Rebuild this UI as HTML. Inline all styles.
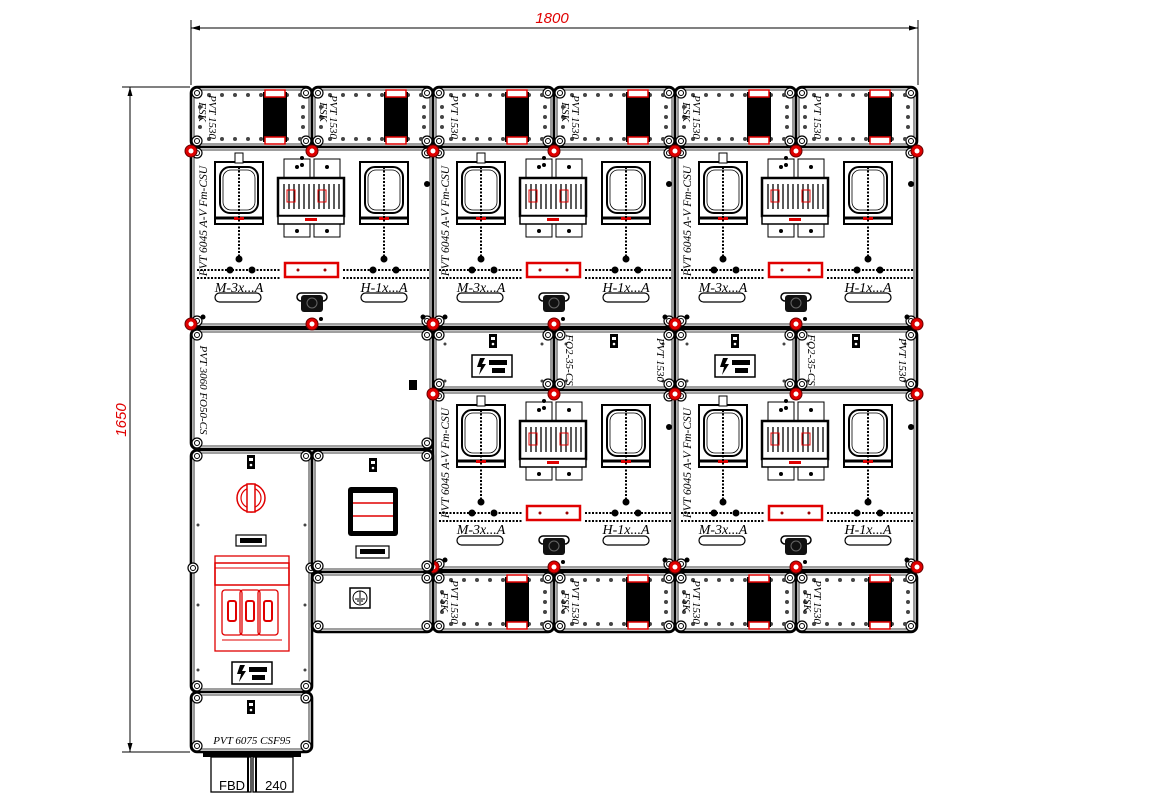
<!DOCTYPE html>
<html><head><meta charset="utf-8"><style>
html,body{margin:0;padding:0;background:#fff;}
svg{display:block;}
.t{font-family:"Liberation Serif",serif;font-style:italic;fill:#000;}
.d{font-family:"Liberation Sans",sans-serif;font-style:italic;fill:#e00000;font-size:15px;}
</style></head><body>
<svg id="s" width="1152" height="810" viewBox="0 0 1152 810" xmlns="http://www.w3.org/2000/svg">
<g id="g"></g>
<!-- dimension lines -->
<g stroke="#000" stroke-width="1" fill="none">
<line x1="191" y1="28" x2="918" y2="28"/><line x1="191" y1="20" x2="191" y2="85"/><line x1="918" y1="20" x2="918" y2="85"/>
<line x1="130" y1="87" x2="130" y2="752"/><line x1="122" y1="87" x2="190" y2="87"/><line x1="122" y1="752" x2="190" y2="752"/>
</g>
<path d="M191 28 l9 -2.5 v5z M918 28 l-9 -2.5 v5z M130 87 l-2.5 9 h5z M130 752 l-2.5 -9 h5z" fill="#000"/>
<text class="d" x="552" y="23" text-anchor="middle">1800</text>
<text class="d" x="126" y="420" text-anchor="middle" transform="rotate(-90 126 420)">1650</text>
<g id="txt"></g>
<!-- static labels -->
<g class="t" font-size="11">
<text transform="translate(199,112) rotate(90)" text-anchor="middle">FSK</text>
<text transform="translate(209,117) rotate(90)" text-anchor="middle">PVT 1530</text>
<text transform="translate(320,112) rotate(90)" text-anchor="middle">FSK</text>
<text transform="translate(330,117) rotate(90)" text-anchor="middle">PVT 1530</text>
<text transform="translate(451,117) rotate(90)" text-anchor="middle">PVT 1530</text>
<text transform="translate(562,112) rotate(90)" text-anchor="middle">FSK</text>
<text transform="translate(572,117) rotate(90)" text-anchor="middle">PVT 1530</text>
<text transform="translate(683,112) rotate(90)" text-anchor="middle">FSK</text>
<text transform="translate(693,117) rotate(90)" text-anchor="middle">PVT 1530</text>
<text transform="translate(814,117) rotate(90)" text-anchor="middle">PVT 1530</text>

<text transform="translate(441,602) rotate(90)" text-anchor="middle">FSK</text>
<text transform="translate(451,602) rotate(90)" text-anchor="middle">PVT 1530</text>
<text transform="translate(562,602) rotate(90)" text-anchor="middle">FSK</text>
<text transform="translate(572,602) rotate(90)" text-anchor="middle">PVT 1530</text>
<text transform="translate(683,602) rotate(90)" text-anchor="middle">FSK</text>
<text transform="translate(693,602) rotate(90)" text-anchor="middle">PVT 1530</text>
<text transform="translate(804,602) rotate(90)" text-anchor="middle">FSK</text>
<text transform="translate(814,602) rotate(90)" text-anchor="middle">PVT 1530</text>

<text transform="translate(566,360) rotate(90)" text-anchor="middle">FO2-35-CS</text>
<text transform="translate(657,360) rotate(90)" text-anchor="middle">PVT 1530</text>
<text transform="translate(808,360) rotate(90)" text-anchor="middle">FO2-35-CS</text>
<text transform="translate(899,360) rotate(90)" text-anchor="middle">PVT 1530</text>
<text transform="translate(200,390) rotate(90)" text-anchor="middle">PVT 3060 FO50-CS</text>
</g>
<g class="t" font-size="11.5">
<text transform="translate(207,221) rotate(-90)" text-anchor="middle">PVT 6045 A-V Fm-CSU</text>
<text transform="translate(449,221) rotate(-90)" text-anchor="middle">PVT 6045 A-V Fm-CSU</text>
<text transform="translate(691,221) rotate(-90)" text-anchor="middle">PVT 6045 A-V Fm-CSU</text>
<text transform="translate(449,463) rotate(-90)" text-anchor="middle">PVT 6045 A-V Fm-CSU</text>
<text transform="translate(691,463) rotate(-90)" text-anchor="middle">PVT 6045 A-V Fm-CSU</text>
</g>
<g class="t" font-size="14">
<text x="239" y="292" text-anchor="middle">M-3x...A</text><text x="384" y="292" text-anchor="middle">H-1x...A</text>
<text x="481" y="292" text-anchor="middle">M-3x...A</text><text x="626" y="292" text-anchor="middle">H-1x...A</text>
<text x="723" y="292" text-anchor="middle">M-3x...A</text><text x="868" y="292" text-anchor="middle">H-1x...A</text>
<text x="481" y="534" text-anchor="middle">M-3x...A</text><text x="626" y="534" text-anchor="middle">H-1x...A</text>
<text x="723" y="534" text-anchor="middle">M-3x...A</text><text x="868" y="534" text-anchor="middle">H-1x...A</text>
</g>
<text class="t" x="252" y="744" font-size="11" text-anchor="middle">PVT 6075 CSF95</text>
<text x="232" y="790" font-family="Liberation Sans,sans-serif" font-size="13" text-anchor="middle">FBD</text>
<text x="276" y="790" font-family="Liberation Sans,sans-serif" font-size="13" text-anchor="middle">240</text>
</svg>
<script>
var g=document.getElementById('g'),h='';
function R(x,y,w,hh,a){h+='<rect x="'+x+'" y="'+y+'" width="'+w+'" height="'+hh+'" '+(a||'fill="none" stroke="#000" stroke-width="1"')+'/>';}
function C(x,y,r,a){h+='<circle cx="'+x+'" cy="'+y+'" r="'+r+'" '+(a||'fill="#444"')+'/>';}
function L(x1,y1,x2,y2,a){h+='<line x1="'+x1+'" y1="'+y1+'" x2="'+x2+'" y2="'+y2+'" '+(a||'stroke="#000" stroke-width="1"')+'/>';}
function screw(x,y){C(x,y,5,'fill="#fff" stroke="#000" stroke-width="1.2"');C(x,y,2.5,'fill="#fff" stroke="#000" stroke-width="1"');}
function box(x,y,w,hh){R(x,y,w,hh,'rx="6" fill="#fff" stroke="#000" stroke-width="2.6"');R(x+3,y+3,w-6,hh-6,'rx="4" fill="none" stroke="#000" stroke-width="0.8"');
 screw(x+6,y+6);screw(x+w-6,y+6);screw(x+6,y+hh-6);screw(x+w-6,y+hh-6);}
function red(x,y){C(x,y,6,'fill="#e00000" stroke="#600" stroke-width="1"');C(x,y,2.5,'fill="#fff"');}
function term(x,y){box(x,y,121,60);
 for(var i=0;i<8;i++){C(x+18+i*13,y+8,2);C(x+18+i*13,y+52,2);}
 for(var j=0;j<3;j++){C(x+9,y+20+j*10,2);C(x+112,y+20+j*10,2);}
 R(x+72,y+5,24,50,'fill="#000"');R(x+74,y+3,20,7,'fill="#fff" stroke="#e00000" stroke-width="1.5"');R(x+74,y+50,20,7,'fill="#fff" stroke="#e00000" stroke-width="1.5"');}
function warn(x,y){R(x,y,40,22,'fill="#fff" stroke="#000" stroke-width="1.5"');h+='<path d="M'+(x+8)+' '+(y+3)+' l-3 9 h4 l-2 8 l7 -11 h-4 l3 -6z" fill="#000"/>';R(x+17,y+5,18,5,'fill="#000"');R(x+20,y+13,13,5,'fill="#000"');}
function win(x,y){R(x,y,48,62,'fill="#fff" stroke="#000" stroke-width="2"');R(x+5,y+5,38,46,'rx="10" fill="none" stroke="#000" stroke-width="2"');R(x+8,y+8,32,40,'rx="8" fill="none" stroke="#000" stroke-width="0.8"');L(x,y+56,x+48,y+56,'stroke="#000" stroke-width="3"');R(x+19,y+55,10,3,'fill="#e00000"');}
function big(x,y){box(x,y,242,180);
 win(x+24,y+15);win(x+169,y+15);R(x+44,y+6,8,10,'fill="#fff" stroke="#000"');
 // breaker
 R(x+93,y+12,26,78);R(x+123,y+12,26,78);C(x+106,y+20,2,'fill="#000"');C(x+136,y+20,2,'fill="#000"');C(x+106,y+84,2,'fill="#000"');C(x+136,y+84,2,'fill="#000"');
 R(x+87,y+31,66,38,'fill="#fff" stroke="#000" stroke-width="2.5"');
 for(var i=0;i<12;i++){L(x+93+i*5,y+37,x+93+i*5,y+62,'stroke="#000" stroke-width="1.3"');}
 R(x+96,y+43,8,12,'fill="none" stroke="#e00000" stroke-width="1"');R(x+127,y+43,8,12,'fill="none" stroke="#e00000" stroke-width="1"');
 R(x+87,y+69,66,8,'fill="#fff" stroke="#000" stroke-width="1.5"');R(x+114,y+71,12,3,'fill="#e00000"');
 C(x+40,y+5,0);C(x+122,y+22,0);C(x+111,y+11,2,'fill="#000"');C(x+111,y+18,2,'fill="#000"');C(x+236,y+37,3,'fill="#000"');C(x+13,y+178,0);
 // vertical dotted
 L(x+48,y+20,x+48,y+112,'stroke="#000" stroke-width="2" stroke-dasharray="2 1.5"');C(x+48,y+112,3.5,'fill="#000"');
 L(x+193,y+20,x+193,y+112,'stroke="#000" stroke-width="2" stroke-dasharray="2 1.5"');C(x+193,y+112,3.5,'fill="#000"');
 L(x+6,y+123,x+90,y+123,'stroke="#000" stroke-width="2" stroke-dasharray="2 1.5"');L(x+152,y+123,x+238,y+123,'stroke="#000" stroke-width="2" stroke-dasharray="2 1.5"');
 L(x+6,y+131,x+90,y+131,'stroke="#000" stroke-width="2" stroke-dasharray="2 1.5"');L(x+152,y+131,x+238,y+131,'stroke="#000" stroke-width="2" stroke-dasharray="2 1.5"');
 C(x+39,y+123,3.5,'fill="#000"');C(x+61,y+123,3.5,'fill="#000"');C(x+182,y+123,3.5,'fill="#000"');C(x+205,y+123,3.5,'fill="#000"');
 R(x+94,y+116,53,14,'fill="#fff" stroke="#e00000" stroke-width="2.5"');C(x+107,y+123,1.5,'fill="#900"');C(x+134,y+123,1.5,'fill="#900"');
 R(x+24,y+146,46,9,'rx="4.5" fill="#fff" stroke="#000" stroke-width="1.2"');R(x+170,y+146,46,9,'rx="4.5" fill="#fff" stroke="#000" stroke-width="1.2"');
 R(x+106,y+146,30,8,'rx="4" fill="#fff" stroke="#000" stroke-width="1.5"');R(x+110,y+148,22,17,'rx="3" fill="#111"');C(x+121,y+156,5,'fill="none" stroke="#666"');
 C(x+130,y+172,2,'fill="#000"');C(x+12,y+170,2.5,'fill="#000"');C(x+232,y+170,2.5,'fill="#000"');
 [[0,4],[121,4],[242,4],[0,177],[121,177],[242,177]].forEach(function(p){red(x+p[0],y+p[1]);});}
function hinge(x,y){R(x-4,y,8,14,'fill="#000"');R(x-2,y+3,4,3,'fill="#fff"');C(x,y+10,1.3,'fill="#fff"');}
// top row terminals
for(var k=0;k<6;k++) term(191+k*121,87);
for(var k=0;k<4;k++) term(433+k*121,572);
// mid small boxes
box(433,329,121,61);box(554,329,121,61);box(675,329,121,61);box(796,329,121,61);
hinge(493,334);hinge(614,334);hinge(735,334);hinge(856,334);
[433,554,675,796].forEach(function(x){C(x+12,y=344,1.5);C(x+109,344,1.5);C(x+12,381,1.5);C(x+109,381,1.5);});
warn(472,355);warn(715,355);
// left 3060 box
box(191,329,242,120);R(409,380,8,10,'fill="#000"');
// big boxes
big(191,147);big(433,147);big(675,147);big(433,390);big(675,390);
// left tall box
box(191,450,121,242);hinge(251,455);
C(251,498,14,'fill="none" stroke="#e00000" stroke-width="1.5"');C(251,498,10,'fill="none" stroke="#e00000" stroke-width="1.2"');R(247,484,8,28,'fill="#fff" stroke="#e00000" stroke-width="1.5"');
R(236,535,30,11,'fill="#fff" stroke="#000" stroke-width="1.2"');R(240,538,22,5,'fill="#000"');
R(215,556,74,95,'fill="#fff" stroke="#e00000" stroke-width="1.3"');R(215,563,74,22,'fill="none" stroke="#e00000" stroke-width="1.5"');
L(215,568,289,568,'stroke="#e00000"');
[232,250,268].forEach(function(cx){R(cx-10,590,20,45,'rx="3" fill="none" stroke="#e00000" stroke-width="1.3"');R(cx-4,601,8,20,'rx="2" fill="none" stroke="#e00000" stroke-width="2"');});
L(222,640,282,640,'stroke="#e00000"');
warn(232,662);
C(198,525,1.5);C(305,525,1.5);C(198,605,1.5);C(305,605,1.5);C(198,670,1.5);C(305,670,1.5);screw(193,568);screw(311,568);
// right upper small box
box(312,450,121,122);hinge(373,458);
R(348,487,50,49,'rx="3" fill="#000"');R(353,493,40,38,'fill="#fff"');L(353,503,393,503,'stroke="#e00000" stroke-width="1.5"');L(353,516,393,516,'stroke="#e00000" stroke-width="1.5"');
R(356,546,33,12,'fill="#fff" stroke="#000" stroke-width="1.2"');R(360,549,25,5,'fill="#000"');
// ground box
box(312,572,121,60);R(350,588,20,20,'fill="#fff" stroke="#000" stroke-width="1.5"');C(360,598,7,'fill="none" stroke="#000"');L(360,591,360,598);L(355,599,365,599);L(357,601,363,601);L(359,603,361,603);
// bottom box
box(191,692,121,60);hinge(251,700);
R(203,752,98,5,'fill="#000"');R(211,757,40,35,'fill="#fff" stroke="#000" stroke-width="1.3"');R(253,757,40,35,'fill="#fff" stroke="#000" stroke-width="1.3"');L(248,757,248,792,'stroke="#000" stroke-width="2"');L(256,757,256,792,'stroke="#000" stroke-width="2"');
g.innerHTML=h;
</script>
</body></html>
